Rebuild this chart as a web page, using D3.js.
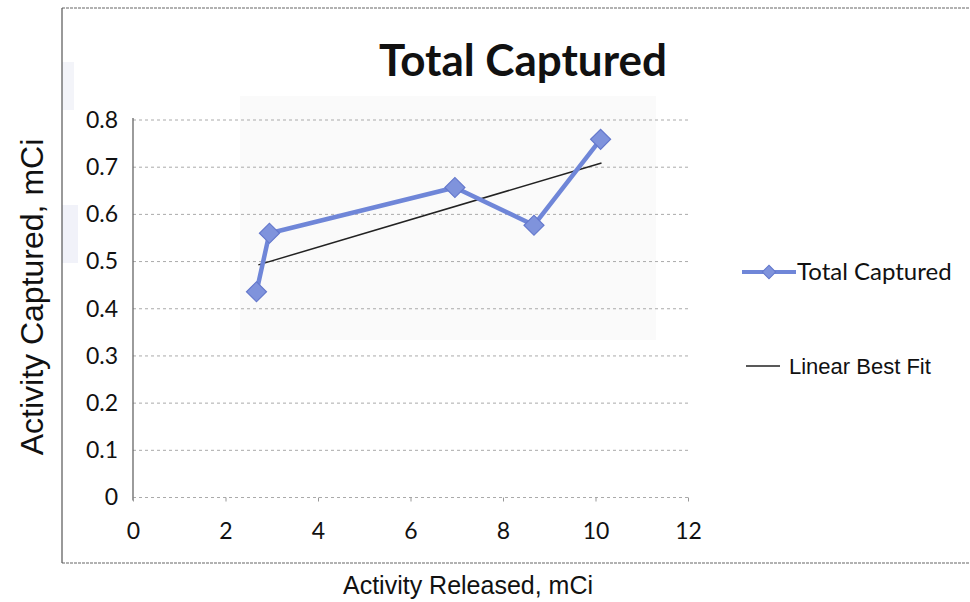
<!DOCTYPE html>
<html>
<head>
<meta charset="utf-8">
<script src="https://cdn.jsdelivr.net/npm/d3@7"></script>
<style>
  body { margin: 0; background: #fff; }
  svg { display: block; }
</style>
</head>
<body>
<div id="chart"></div>
<script>
// values
var released = [2.67, 2.95, 6.96, 8.67, 10.11];
var captured = [0.436, 0.560, 0.657, 0.577, 0.759];
var fitX = [2.71, 10.13];
var fitY = [0.493, 0.709];
var xTicks = [0, 2, 4, 6, 8, 10, 12];
var yTicks = [0, 0.1, 0.2, 0.3, 0.4, 0.5, 0.6, 0.7, 0.8];

var width = 970, height = 602;
var svg = d3.select("#chart").append("svg")
    .attr("width", width)
    .attr("height", height);

// faint scan shading behind the plot and at the left edge
svg.append("rect").attr("x", 240).attr("y", 96).attr("width", 416).attr("height", 244)
    .attr("fill", "#fafafa");
svg.append("rect").attr("x", 62).attr("y", 205).attr("width", 16).attr("height", 58)
    .attr("fill", "#f1f2f9");
svg.append("rect").attr("x", 62).attr("y", 62).attr("width", 12).attr("height", 48)
    .attr("fill", "#f3f4f9");

// frame of the scanned chart
svg.append("line").attr("x1", 62).attr("x2", 970).attr("y1", 8).attr("y2", 8)
    .attr("stroke", "#666").attr("stroke-width", 1.2).attr("stroke-dasharray", "3,1");
svg.append("line").attr("x1", 62).attr("x2", 970).attr("y1", 563).attr("y2", 563)
    .attr("stroke", "#666").attr("stroke-width", 1.2).attr("stroke-dasharray", "3,1");
svg.append("line").attr("x1", 62).attr("x2", 62).attr("y1", 8).attr("y2", 563)
    .attr("stroke", "#555").attr("stroke-width", 1.2);

var x = d3.scaleLinear().domain([0, 12]).range([133, 688]);
var y = d3.scaleLinear().domain([0, 0.8]).range([497.5, 120]);

// gridlines
svg.append("g")
    .selectAll("line")
    .data(yTicks)
    .enter()
    .append("line")
    .attr("x1", x(0)).attr("x2", x(12))
    .attr("y1", (d) => y(d)).attr("y2", (d) => y(d))
    .attr("stroke", "#aaa")
    .attr("stroke-width", 1)
    .attr("stroke-dasharray", "3,3");

// y axis
var yAxis = d3.axisLeft(y).tickValues(yTicks).tickSize(0).tickPadding(15)
    .tickFormat((d) => d == 0 ? "0" : d3.format(".1f")(d));
var gy = svg.append("g").attr("transform", "translate(" + x(0) + ",0)").call(yAxis);
gy.select(".domain").attr("stroke", "#666").attr("stroke-width", 1.3)
    .attr("d", "M0," + (y(0) + 3) + "V" + (y(0.8) - 2));
gy.selectAll("text")
    .attr("font-family", "Lato, 'Open Sans', sans-serif")
    .attr("font-size", 23).attr("fill", "#111");

// x axis
var xAxis = d3.axisBottom(x).tickValues(xTicks).tickSize(4).tickPadding(21);
var gx = svg.append("g").attr("transform", "translate(0," + y(0) + ")").call(xAxis);
gx.select(".domain").remove();
gx.selectAll(".tick line").attr("stroke", "#999");
gx.selectAll("text")
    .attr("font-family", "Lato, 'Open Sans', sans-serif")
    .attr("font-size", 23).attr("fill", "#111");

// linear best fit
svg.append("line")
    .attr("x1", x(fitX[0])).attr("y1", y(fitY[0]))
    .attr("x2", x(fitX[1])).attr("y2", y(fitY[1]))
    .attr("stroke", "#222").attr("stroke-width", 1.5);

// data series
var pts = released.map((d, i) => [d, captured[i]]);
svg.append("path")
    .datum(pts)
    .attr("d", d3.line().x((d) => x(d[0])).y((d) => y(d[1])))
    .attr("fill", "none")
    .attr("stroke", "#6f86d8")
    .attr("stroke-width", 4.5)
    .attr("stroke-linejoin", "round");

svg.append("g")
    .selectAll("path")
    .data(pts)
    .enter()
    .append("path")
    .attr("transform", (d) => "translate(" + x(d[0]) + "," + y(d[1]) + ") rotate(45)")
    .attr("d", d3.symbol().type(d3.symbolSquare).size(200))
    .attr("fill", "#7f93dc")
    .attr("stroke", "#6478cc")
    .attr("stroke-width", 1.2);

// title
svg.append("text")
    .attr("x", 523).attr("y", 76)
    .attr("text-anchor", "middle")
    .attr("font-family", "Lato, 'Open Sans', sans-serif")
    .attr("font-weight", "bold")
    .attr("font-size", 44)
    .attr("fill", "#111")
    .text("Total  Captured");

// axis titles
svg.append("text")
    .attr("transform", "translate(43,297) rotate(-90)")
    .attr("text-anchor", "middle")
    .attr("font-family", "'Liberation Sans', Arial, sans-serif")
    .attr("font-size", 32)
    .attr("fill", "#111")
    .text("Activity Captured, mCi");

svg.append("text")
    .attr("x", 468).attr("y", 594)
    .attr("text-anchor", "middle")
    .attr("font-family", "'Liberation Sans', Arial, sans-serif")
    .attr("font-size", 25)
    .attr("fill", "#111")
    .text("Activity Released, mCi");

// legend
var leg = svg.append("g");
leg.append("line").attr("x1", 742).attr("x2", 796).attr("y1", 272).attr("y2", 272)
    .attr("stroke", "#6f86d8").attr("stroke-width", 4);
leg.append("path")
    .attr("transform", "translate(769,272) rotate(45)")
    .attr("d", d3.symbol().type(d3.symbolSquare).size(90))
    .attr("fill", "#7f93dc").attr("stroke", "#6478cc");
leg.append("text").attr("x", 797).attr("y", 280)
    .attr("font-family", "Lato, 'Open Sans', sans-serif")
    .attr("font-size", 24).attr("fill", "#111")
    .text("Total  Captured");
leg.append("line").attr("x1", 746).attr("x2", 780).attr("y1", 366).attr("y2", 366)
    .attr("stroke", "#222").attr("stroke-width", 1.5);
leg.append("text").attr("x", 789).attr("y", 374)
    .attr("font-family", "'Liberation Sans', Arial, sans-serif")
    .attr("font-size", 22).attr("fill", "#111")
    .text("Linear Best Fit");
</script>
</body>
</html>
